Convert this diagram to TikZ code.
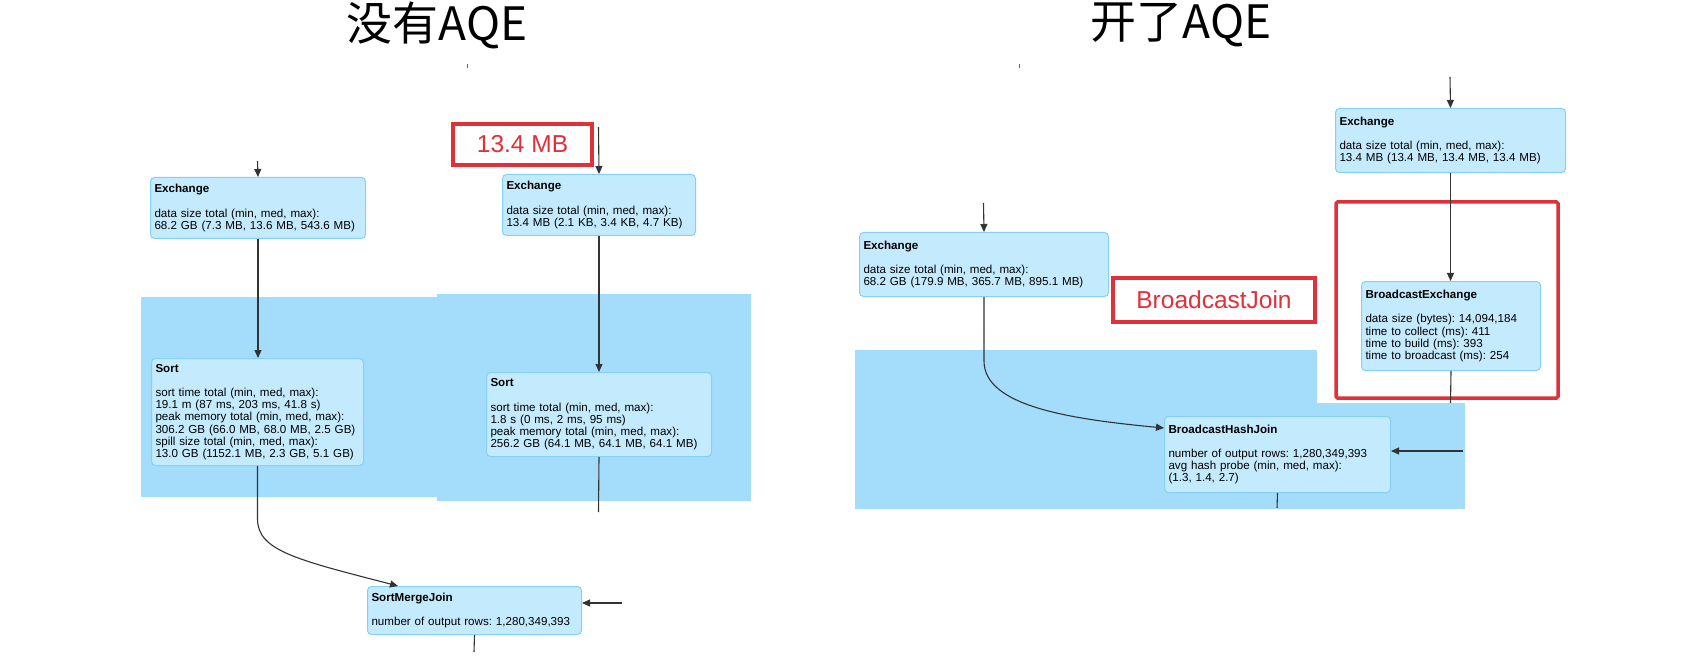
\documentclass[tikz,border=0pt]{standalone}
\usepackage{fontspec}
\setmainfont{Liberation Sans}
\newfontfamily\cjk{Noto Sans CJK SC}
\usetikzlibrary{arrows.meta,calc}
\definecolor{stagefill}{HTML}{A3DDFB}
\definecolor{planfill}{HTML}{C4EAFD}
\definecolor{planline}{HTML}{86D0F5}
\definecolor{markred}{HTML}{E0303A}
\frenchspacing

\begin{document}
\begin{tikzpicture}[x=1pt,y=-1pt,
  plan/.style={draw=planline, fill=planfill, line width=1pt, rounded corners=4pt, anchor=north west, align=left, inner xsep=4pt, inner ysep=5pt, font=\fontsize{11.6}{12.2}\selectfont\frenchspacing},
  flow/.style={draw=black!80, line width=1.1pt, -{Triangle[length=8pt,width=7pt]}},
  wire/.style={draw=black!80, line width=1.1pt},
  redbox/.style={draw=markred, line width=3.5pt, text=markred, font=\fontsize{24.5}{24.5}\selectfont},
  heading/.style={font=\cjk\fontsize{46}{46}\selectfont}]
\useasboundingbox (0,0) rectangle (1691,668);
\fill[white] (0,0) rectangle (1691,668);

\node[heading] (noaqe) at (437,25) {没有AQE};
\node[heading] (withaqe) at (1181,25) {开了AQE};
\draw[black!60, line width=1pt] (467,64) -- (467,68);
\draw[black!60, line width=1pt] (1019,64) -- (1019,68);

\fill[stagefill] (141,297) rectangle (437,497);
\fill[stagefill] (437,294) rectangle (751,501);
\fill[stagefill] (855,350) rectangle (1317,509);
\fill[stagefill] (1317,403) rectangle (1465,509);

\node[plan, text width=207pt, minimum height=61pt] (exL) at (150,177) {\textbf{Exchange}\\[12pt]data size total (min, med, max):\\68.2 GB (7.3 MB, 13.6 MB, 543.6 MB)};
\node[plan, text width=204pt, minimum height=107pt] (sortL) at (151,358) {\textbf{Sort}\\[12pt]sort time total (min, med, max):\\19.1 m (87 ms, 203 ms, 41.8 s)\\peak memory total (min, med, max):\\306.2 GB (66.0 MB, 68.0 MB, 2.5 GB)\\spill size total (min, med, max):\\13.0 GB (1152.1 MB, 2.3 GB, 5.1 GB)};
\node[plan, text width=206pt, minimum height=48pt] (smj) at (367,586) {\textbf{SortMergeJoin}\\[12pt]number of output rows: 1,280,349,393};
\node[plan, text width=185pt, minimum height=61pt] (exR) at (502,174) {\textbf{Exchange}\\[12pt]data size total (min, med, max):\\13.4 MB (2.1 KB, 3.4 KB, 4.7 KB)};
\node[plan, text width=217pt, minimum height=84pt] (sortR) at (486,372) {\textbf{Sort}\\[12pt]sort time total (min, med, max):\\1.8 s (0 ms, 2 ms, 95 ms)\\peak memory total (min, med, max):\\256.2 GB (64.1 MB, 64.1 MB, 64.1 MB)};

\node[plan, text width=241pt, minimum height=64pt] (exJ) at (859,232) {\textbf{Exchange}\\[12pt]data size total (min, med, max):\\68.2 GB (179.9 MB, 365.7 MB, 895.1 MB)};
\node[plan, text width=222pt, minimum height=64pt] (exTop) at (1335,108) {\textbf{Exchange}\\[12pt]data size total (min, med, max):\\13.4 MB (13.4 MB, 13.4 MB, 13.4 MB)};
\node[plan, text width=171pt, minimum height=89pt] (bex) at (1361,281) {\textbf{BroadcastExchange}\\[12pt]data size (bytes): 14,094,184\\time to collect (ms): 411\\time to build (ms): 393\\time to broadcast (ms): 254};
\node[plan, text width=218pt, minimum height=76pt] (bhj) at (1164,416) {\textbf{BroadcastHashJoin}\\[12pt]number of output rows: 1,280,349,393\\avg hash probe (min, med, max):\\(1.3, 1.4, 2.7)};

\node[redbox, minimum width=139pt, minimum height=41pt] (sizenote) at (522.5,144.5) {13.4 MB};
\node[redbox, minimum width=202pt, minimum height=44pt] (joinnote) at (1214,300) {BroadcastJoin};
\draw[markred, line width=3.5pt, rounded corners=1.5pt] (1336,202) rectangle (1558,398);

\coordinate (inL) at (257.5,161);
\coordinate (inS) at (622,603);
\coordinate (outS) at (474,652);
\coordinate (inR) at (598.5,127);
\coordinate (outR) at (598.5,512);
\coordinate (inJ) at (983.5,203);
\coordinate (inTop) at (1450,77);
\coordinate (outB) at (1450.5,403);
\coordinate (inB) at (1463,451);
\coordinate (outJ) at (1277,508);

\draw[flow] (inL) -- (exL.north);
\draw[flow] (exL.south) -- (exL.south |- sortL.north);
\draw[flow] (sortL.south) -- ++(0,53) .. controls +(0,32) and +(-100,-26) .. ($(smj.north west)+(31,0)$);
\draw[flow] (inS) -- (inS -| smj.east);
\draw[wire] (smj.south) -- (outS);
\draw[flow] (inR) -- (exR.north);
\draw[flow] (exR.south) -- (sortR.north);
\draw[wire] (sortR.south) -- (outR);

\draw[flow] (inJ) -- (exJ.north);
\draw[flow] (exJ.south) -- ++(0,64) .. controls +(0,45) and +(-95,-9) .. ($(bhj.north west)+(0,12)$);
\draw[flow] (inTop) -- (exTop.north);
\draw[flow] (exTop.south) -- (exTop.south |- bex.north);
\draw[wire] (bex.south) -- (outB);
\draw[flow] (inB) -- (inB -| bhj.east);
\draw[wire] (bhj.south) -- (outJ);
\end{tikzpicture}
\end{document}
